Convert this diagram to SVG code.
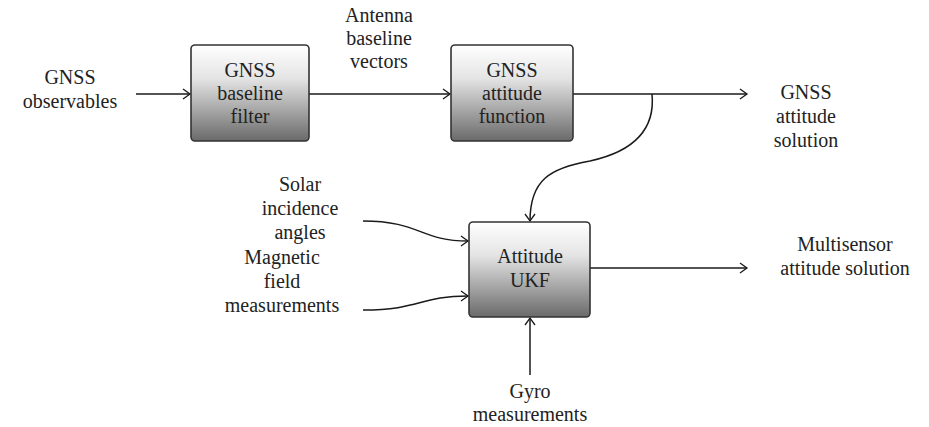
<svg xmlns="http://www.w3.org/2000/svg" width="929" height="427" viewBox="0 0 929 427">
<defs>
<linearGradient id="g" x1="0" y1="0" x2="0" y2="1">
<stop offset="0" stop-color="#ffffff"/>
<stop offset="0.35" stop-color="#e4e4e4"/>
<stop offset="1" stop-color="#6a6a6a"/>
</linearGradient>
<marker id="a" markerWidth="12" markerHeight="12" refX="10" refY="6" orient="auto" markerUnits="userSpaceOnUse">
<path d="M3,1 L10,6 L3,11" fill="none" stroke="#1a1a1a" stroke-width="1.3"/>
</marker>
</defs>
<style>
text{font-family:"Liberation Serif","Times New Roman",serif;font-size:20px;fill:#222;text-anchor:middle}
.box{fill:url(#g);stroke:#333;stroke-width:1.6}
.c{fill:none;stroke:#1a1a1a;stroke-width:1.5}
</style>
<g id="connectors">
<path class="c" d="M136,94 L190,94" marker-end="url(#a)"/>
<path class="c" d="M309,94 L450,94" marker-end="url(#a)"/>
<path class="c" d="M573,94 L747,94" marker-end="url(#a)"/>
<path class="c" d="M652,94 C655,125 640,150 590,161 C550,168 530,180 530,221" marker-end="url(#a)"/>
<path class="c" d="M363,221 C420,221 420,241 468,241" marker-end="url(#a)"/>
<path class="c" d="M363,310 C420,310 420,296 468,296" marker-end="url(#a)"/>
<path class="c" d="M530,375 L530,318" marker-end="url(#a)"/>
<path class="c" d="M590,268 L747,268" marker-end="url(#a)"/>
</g>
<g id="gnss-baseline-filter">
<rect class="box" x="191" y="45" width="118" height="96" rx="4"/>
<text x="250" y="77">GNSS</text>
<text x="250" y="100">baseline</text>
<text x="250" y="123">filter</text>
</g>
<g id="gnss-attitude-function">
<rect class="box" x="451" y="45" width="122" height="96" rx="4"/>
<text x="512" y="77">GNSS</text>
<text x="512" y="100">attitude</text>
<text x="512" y="123">function</text>
</g>
<g id="attitude-ukf">
<rect class="box" x="469" y="222" width="121" height="95" rx="4"/>
<text x="530" y="263">Attitude</text>
<text x="530" y="287">UKF</text>
</g>
<g id="label-gnss-obs">
<text x="70" y="84">GNSS</text>
<text x="70" y="108">observables</text>
</g>
<g id="label-antenna">
<text x="379" y="22">Antenna</text>
<text x="379" y="45">baseline</text>
<text x="379" y="68">vectors</text>
</g>
<g id="label-gnss-solution">
<text x="806" y="99">GNSS</text>
<text x="806" y="123">attitude</text>
<text x="806" y="147">solution</text>
</g>
<g id="label-solar">
<text x="300" y="191">Solar</text>
<text x="300" y="215">incidence</text>
<text x="300" y="239">angles</text>
</g>
<g id="label-magnetic">
<text x="282" y="264">Magnetic</text>
<text x="282" y="288">field</text>
<text x="282" y="312">measurements</text>
</g>
<g id="label-multisensor">
<text x="845" y="251">Multisensor</text>
<text x="845" y="275">attitude solution</text>
</g>
<g id="label-gyro">
<text x="530" y="398">Gyro</text>
<text x="530" y="421">measurements</text>
</g>
</svg>
